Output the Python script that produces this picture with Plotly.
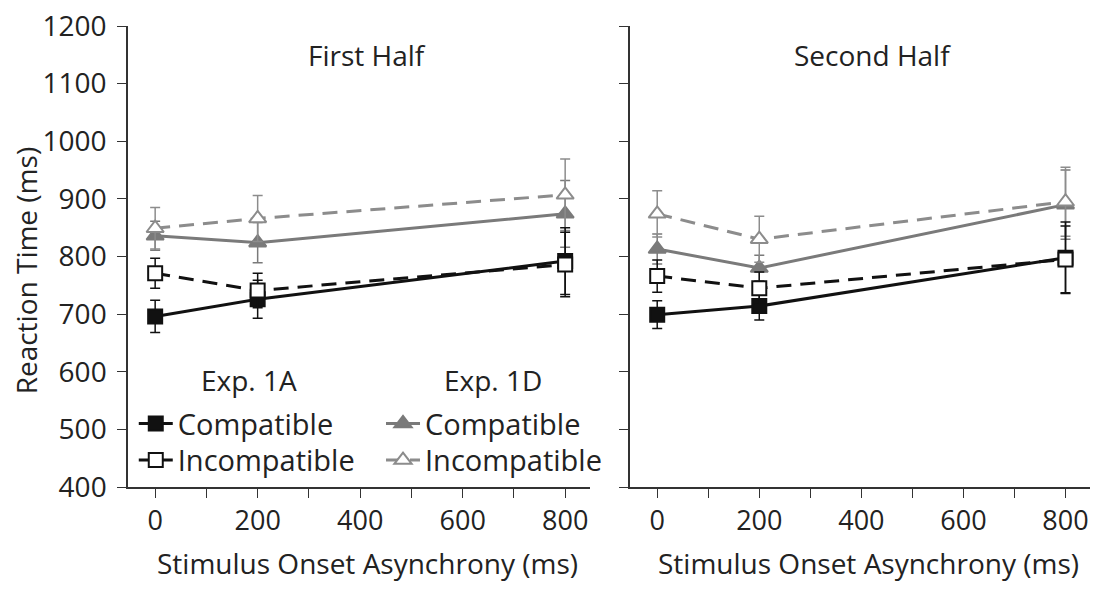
import plotly.graph_objects as go

soa = [0, 200, 800]

# First half
fh_1a_comp = [696, 726, 792]
fh_1a_comp_err = [28, 33, 58]
fh_1a_inc = [771, 741, 786]
fh_1a_inc_err = [26, 30, 56]
fh_1d_comp = [836, 824, 874]
fh_1d_comp_err = [25, 35, 58]
fh_1d_inc = [849, 866, 907]
fh_1d_inc_err = [36, 40, 62]

# Second half
sh_1a_comp = [699, 714, 798]
sh_1a_comp_err = [24, 24, 62]
sh_1a_inc = [766, 745, 795]
sh_1a_inc_err = [28, 28, 58]
sh_1d_comp = [813, 780, 890]
sh_1d_comp_err = [26, 22, 60]
sh_1d_inc = [874, 830, 895]
sh_1d_inc_err = [40, 40, 60]

x_tickvals = [0, 100, 200, 300, 400, 500, 600, 700, 800]
x_ticktext = ["0", "", "200", "", "400", "", "600", "", "800"]
y_tickvals = [400, 500, 600, 700, 800, 900, 1000, 1100, 1200]

FONT = "Open Sans"
TXT = "#222222"
BLACK = "#111111"
GRAY = "#7a7a7a"
LGRAY = "#8c8c8c"
FS = 28

fig = go.Figure()

def add(xa, ya, y, err, name, color, symbol, fill, dash, legend, show):
    fig.add_trace(go.Scatter(
        x=soa, y=y, xaxis=xa, yaxis=ya, mode="lines+markers", name=name,
        line=dict(color=color, width=3, dash=dash),
        marker=dict(symbol=symbol, size=14 if "square" in symbol else 15,
                    color=fill, line=dict(color=color, width=2)),
        error_y=dict(type="data", array=err, color=color, thickness=1.5, width=5),
        legend=legend, showlegend=show,
    ))

for xa, ya, d, show in [("x", "y", (fh_1d_comp, fh_1d_comp_err, fh_1d_inc, fh_1d_inc_err,
                                    fh_1a_comp, fh_1a_comp_err, fh_1a_inc, fh_1a_inc_err), True),
                        ("x2", "y2", (sh_1d_comp, sh_1d_comp_err, sh_1d_inc, sh_1d_inc_err,
                                      sh_1a_comp, sh_1a_comp_err, sh_1a_inc, sh_1a_inc_err), False)]:
    add(xa, ya, d[0], d[1], "Compatible", GRAY, "triangle-up", GRAY, "solid", "legend3", show)
    add(xa, ya, d[2], d[3], "Incompatible", LGRAY, "triangle-up", "white", "15px,9px", "legend4", show)
    add(xa, ya, d[4], d[5], "Compatible", BLACK, "square", BLACK, "solid", "legend", show)
    add(xa, ya, d[6], d[7], "Incompatible", BLACK, "square", "white", "15px,9px", "legend2", show)

xcommon = dict(range=[-53, 848], tickvals=x_tickvals, ticktext=x_ticktext,
               ticks="outside", ticklen=9, tickwidth=1.2, tickcolor="#333",
               showline=True, linecolor="#333", linewidth=1.5, showgrid=False,
               zeroline=False, tickfont=dict(family=FONT, size=27, color=TXT))
ycommon = dict(range=[400, 1200], tickvals=y_tickvals, ticks="outside", ticklen=9,
               tickwidth=1.2, tickcolor="#333", showline=True, linecolor="#333",
               linewidth=1.5, showgrid=False, zeroline=False, ticklabelstandoff=5,
               tickfont=dict(family=FONT, size=28, color=TXT))

legfont = dict(family=FONT, size=FS, color=TXT)
lfont = dict(family=FONT, size=29, color=TXT)

def leg(x, y):
    return dict(x=x, y=y, xanchor="left", yanchor="middle", bgcolor="rgba(0,0,0,0)",
                itemwidth=34, font=lfont, borderwidth=0)

fig.update_layout(
    width=1096, height=591,
    margin=dict(l=128, r=6, t=22, b=104),
    paper_bgcolor="white", plot_bgcolor="white",
    font=dict(family=FONT, size=FS, color=TXT),
    xaxis=dict(domain=[0, 0.480], anchor="y", **xcommon),
    xaxis2=dict(domain=[0.522, 1.0], anchor="y2", **xcommon),
    yaxis=dict(domain=[0, 1], anchor="x", **ycommon),
    yaxis2=dict(domain=[0, 1], anchor="x2", showticklabels=False, **ycommon),
    legend=leg(0.006, 0.1376),
    legend2=leg(0.006, 0.0581),
    legend3=leg(0.263, 0.1376),
    legend4=leg(0.263, 0.0581),
    annotations=[
        dict(text="First Half", x=414, y=1149, xref="x", yref="y", showarrow=False, font=legfont),
        dict(text="Second Half", x=421, y=1149, xref="x2", yref="y2", showarrow=False, font=legfont),
        dict(text="Exp. 1A", x=0.1255, y=0.232, xref="paper", yref="paper", showarrow=False,
             xanchor="center", yanchor="middle", font=legfont),
        dict(text="Exp. 1D", x=0.3794, y=0.232, xref="paper", yref="paper", showarrow=False,
             xanchor="center", yanchor="middle", font=legfont),
        dict(text="Stimulus Onset Asynchrony (ms)", x=414, y=-0.165, xref="x", yref="paper",
             showarrow=False, yanchor="middle", font=legfont),
        dict(text="Stimulus Onset Asynchrony (ms)", x=414, y=-0.165, xref="x2", yref="paper",
             showarrow=False, yanchor="middle", font=legfont),
        dict(text="Reaction Time (ms)", x=-0.106, y=0.47, xref="paper", yref="paper",
             showarrow=False, textangle=-90, xanchor="center", yanchor="middle", font=legfont),
    ],
)

fig.write_html("out.html", config={"displayModeBar": False},
               post_script="document.body.style.margin='0';")
